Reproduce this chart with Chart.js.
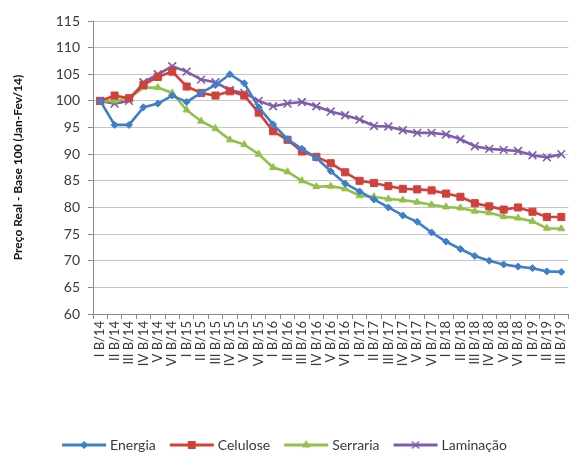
<!DOCTYPE html>
<html>
<head>
<meta charset="utf-8">
<script src="https://cdn.jsdelivr.net/npm/chart.js@4.4.1/dist/chart.umd.min.js"></script>
<style>
  html, body { margin: 0; padding: 0; background: #ffffff; }
  #wrap { width: 579px; height: 454px; }
</style>
</head>
<body>
<div id="wrap"><canvas id="chart" width="579" height="454"></canvas></div>
<script>
// Bimesters, Jan-Feb/2014 through May-Jun/2019
const categories = [
  'I B/14', 'II B/14', 'III B/14', 'IV B/14', 'V B/14', 'VI B/14',
  'I B/15', 'II B/15', 'III B/15', 'IV B/15', 'V B/15', 'VI B/15',
  'I B/16', 'II B/16', 'III B/16', 'IV B/16', 'V B/16', 'VI B/16',
  'I B/17', 'II B/17', 'III B/17', 'IV B/17', 'V B/17', 'VI B/17',
  'I B/18', 'II B/18', 'III B/18', 'IV B/18', 'V B/18', 'VI B/18',
  'I B/19', 'II B/19', 'III B/19'
];

// Real price index, base 100 = Jan-Feb/2014
const energia = [100, 95.5, 95.5, 98.8, 99.5, 101, 99.8, 101.5, 103, 105, 103.3, 98.8,
  95.6, 92.8, 91, 89.3, 86.8, 84.5, 83, 81.5, 80, 78.5, 77.3, 75.3,
  73.6, 72.2, 70.9, 70, 69.3, 68.9, 68.6, 68, 67.9];
const celulose = [100, 101, 100.5, 103, 104.5, 105.5, 102.7, 101.5, 101, 101.8, 101, 97.8,
  94.3, 92.7, 90.5, 89.5, 88.3, 86.6, 85, 84.6, 84, 83.5, 83.4, 83.2,
  82.6, 82, 80.8, 80.2, 79.6, 80, 79.2, 78.2, 78.2];
const serraria = [100, 100, 100.5, 102.5, 102.5, 101.5, 98.3, 96.2, 94.8, 92.7, 91.8, 90,
  87.5, 86.7, 85, 83.9, 84, 83.5, 82.2, 82, 81.6, 81.4, 81, 80.5,
  80.1, 79.9, 79.3, 79, 78.3, 78, 77.4, 76.1, 76];
const laminacao = [100, 99.5, 100, 103.5, 105, 106.5, 105.5, 104, 103.5, 102, 101.5, 100,
  99, 99.5, 99.8, 99, 98, 97.3, 96.5, 95.3, 95.2, 94.5, 94, 94,
  93.7, 92.8, 91.5, 91, 90.8, 90.6, 89.8, 89.4, 90];

const yTicks = { min: 60, max: 115, step: 5 };

const FONT = 'Lato, "Liberation Sans", sans-serif';
const TEXT = '#3a3a3a';

const series = [
  { label: 'Energia',   data: energia,   color: '#3f7fca', style: 'rectRot',  radius: 3.5 },
  { label: 'Celulose',  data: celulose,  color: '#d2403b', style: 'rect',     radius: 5 },
  { label: 'Serraria',  data: serraria,  color: '#92c14a', style: 'triangle', radius: 4 },
  { label: 'Laminação', data: laminacao, color: '#7f5dae', style: 'crossRot', radius: 5.5 }
];

// Legend swatch: a short line with the series marker in the middle
const ICON_W = 46;
function legendIcon(s) {
  const cv = document.createElement('canvas');
  cv.width = ICON_W; cv.height = 14;
  const ctx = cv.getContext('2d');
  ctx.strokeStyle = s.color;
  ctx.fillStyle = s.color;
  ctx.lineWidth = 3;
  ctx.beginPath();
  ctx.moveTo(1, 7); ctx.lineTo(ICON_W - 1, 7);
  ctx.stroke();
  ctx.lineWidth = 1.5;
  Chart.helpers.drawPoint(ctx, { pointStyle: s.style, radius: s.radius - 0.5, rotation: 0, borderWidth: 1.5 }, ICON_W / 2, 7);
  return cv;
}

const datasets = series.map(s => ({
  label: s.label,
  data: s.data,
  borderColor: s.color,
  backgroundColor: s.color,
  borderWidth: 2.6,
  pointStyle: s.style,
  pointRadius: s.radius,
  pointBorderWidth: s.style === 'crossRot' ? 1.6 : 1,
  pointBackgroundColor: s.color,
  pointBorderColor: s.color,
  tension: 0,
  fill: false
}));

const icons = series.map(legendIcon);

new Chart(document.getElementById('chart'), {
  type: 'line',
  data: { labels: categories, datasets },
  options: {
    responsive: false,
    animation: false,
    layout: { padding: { top: 21, right: 7, bottom: -8, left: 0 } },
    plugins: {
      tooltip: { enabled: false },
      legend: {
        position: 'bottom',
        labels: {
          font: { family: FONT, size: 14 },
          color: TEXT,
          usePointStyle: true,
          pointStyleWidth: 38,
          padding: 17,
          generateLabels: chart => chart.data.datasets.map((ds, i) => ({
            text: ds.label,
            pointStyle: icons[i],
            fillStyle: ds.borderColor,
            strokeStyle: ds.borderColor,
            lineWidth: 0,
            hidden: false,
            datasetIndex: i,
            fontColor: TEXT
          }))
        }
      }
    },
    scales: {
      x: {
        type: 'category',
        offset: true,
        afterFit: scale => { scale.height = 107; },
        grid: {
          display: true,
          offset: true,
          drawOnChartArea: false,
          drawTicks: true,
          tickLength: 5,
          tickColor: '#8a8a8a'
        },
        border: { display: true, color: '#8a8a8a', width: 1 },
        ticks: {
          autoSkip: false,
          minRotation: 90,
          maxRotation: 90,
          padding: 2,
          color: TEXT,
          font: { family: FONT, size: 13 }
        }
      },
      y: {
        min: yTicks.min,
        max: yTicks.max,
        afterFit: scale => { scale.width = 93; },
        grid: {
          color: '#c6c6c6',
          lineWidth: 1,
          drawTicks: true,
          tickLength: 5,
          tickColor: '#8a8a8a'
        },
        border: { display: true, color: '#8a8a8a', width: 1 },
        ticks: {
          stepSize: yTicks.step,
          padding: 8,
          color: TEXT,
          font: { family: FONT, size: 14 }
        },
        title: {
          display: true,
          text: 'Preço Real - Base 100 (Jan-Fev/14)',
          color: '#111',
          font: { family: FONT, size: 12, weight: 'bold' },
          padding: { top: 11, bottom: 0 }
        }
      }
    }
  }
});
</script>
</body>
</html>
